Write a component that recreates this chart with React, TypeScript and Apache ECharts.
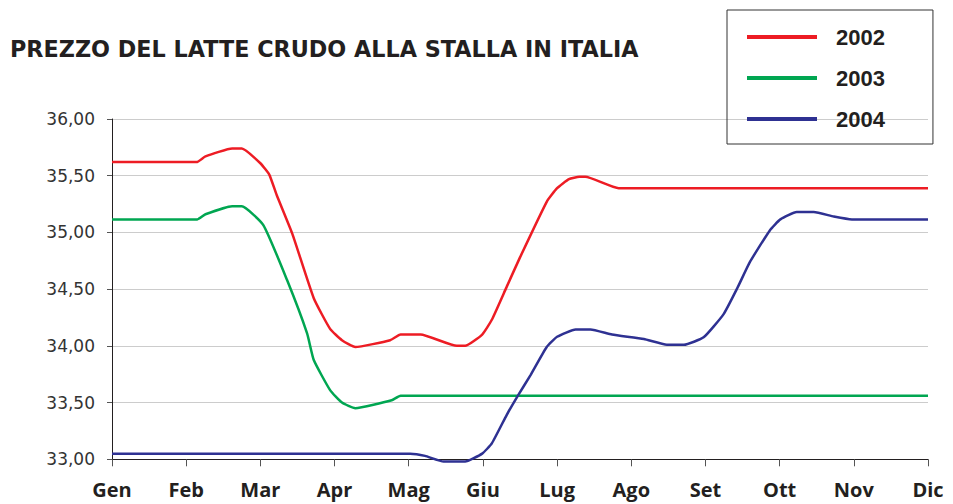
import React, { useEffect, useRef } from "react";
import * as echarts from "echarts";

const monthLabels = ["Gen", "Feb", "Mar", "Apr", "Mag", "Giu", "Lug", "Ago", "Set", "Ott", "Nov", "Dic"];
const seriesNames = ["2002", "2003", "2004"];
const seriesColors = ["#ED1C24", "#00A651", "#2E3192"];

// x in month units (0 = Gen, 11 = Dic)
const x2002 = [0, 1.14, 1.26, 1.62, 1.75, 2.0, 2.12, 2.22, 2.43, 2.72, 2.94, 3.1, 3.28, 3.75, 3.89, 4.16, 4.65, 4.76, 4.99, 5.12, 5.32, 5.5, 5.86, 6.0, 6.16, 6.3, 6.38, 6.83, 11];
const y2002 = [35.62, 35.62, 35.67, 35.74, 35.74, 35.61, 35.51, 35.33, 34.99, 34.42, 34.15, 34.05, 33.99, 34.05, 34.1, 34.1, 34.0, 34.0, 34.1, 34.23, 34.52, 34.78, 35.27, 35.39, 35.47, 35.49, 35.49, 35.39, 35.39];

const x2003 = [0, 1.15, 1.26, 1.62, 1.75, 2.04, 2.36, 2.63, 2.72, 2.94, 3.1, 3.28, 3.77, 3.89, 11];
const y2003 = [35.115, 35.115, 35.16, 35.23, 35.23, 35.065, 34.58, 34.11, 33.875, 33.61, 33.5, 33.45, 33.52, 33.56, 33.56];

const x2004 = [0, 4.02, 4.22, 4.47, 4.76, 4.99, 5.12, 5.32, 5.48, 5.64, 5.86, 6.0, 6.25, 6.45, 6.74, 7.17, 7.48, 7.71, 7.975, 8.245, 8.43, 8.6, 8.87, 9.01, 9.23, 9.46, 9.73, 9.975, 11];
const y2004 = [33.05, 33.05, 33.03, 32.98, 32.98, 33.05, 33.14, 33.39, 33.57, 33.74, 33.99, 34.08, 34.145, 34.145, 34.1, 34.06, 34.01, 34.01, 34.075, 34.28, 34.51, 34.74, 35.02, 35.115, 35.18, 35.18, 35.14, 35.115, 35.115];

const yMin = 33;
const yMax = 36;
const yStep = 0.5;

const seriesX = [x2002, x2003, x2004];
const seriesY = [y2002, y2003, y2004];

export default function App() {
  const ref = useRef<HTMLDivElement>(null);
  useEffect(() => {
    if (!ref.current) return;
    const chart = echarts.init(ref.current, null, { renderer: "svg" });
    chart.setOption({
      animation: false,
      backgroundColor: "#ffffff",
      title: {
        text: "PREZZO DEL LATTE CRUDO ALLA STALLA IN ITALIA",
        left: 10,
        top: 38,
        padding: 0,
        textStyle: { fontFamily: "DejaVu Sans", fontWeight: "bold", fontSize: 22.3, color: "#231f20" },
      },
      legend: {
        data: seriesNames,
        orient: "vertical",
        left: 727,
        top: 10,
        padding: [16, 48, 14, 20],
        itemGap: 19,
        itemWidth: 70,
        itemHeight: 4,
        icon: "rect",
        borderColor: "#333333",
        borderWidth: 1,
        selectedMode: false,
        textStyle: {
          fontFamily: "Liberation Sans",
          fontWeight: "bold",
          fontSize: 22,
          lineHeight: 22,
          color: "#231f20",
          padding: [0, 0, 0, 14],
        },
      },
      grid: { left: 112, right: 25, top: 119, height: 340.3, containLabel: false },
      xAxis: {
        type: "value",
        min: 0,
        max: 11,
        interval: 1,
        axisLine: { show: true, lineStyle: { color: "#231f20", width: 1 } },
        axisTick: { show: true, length: 7, lineStyle: { color: "#555555" } },
        splitLine: { show: false },
        axisLabel: {
          margin: 20,
          fontFamily: "Open Sans",
          fontWeight: "bold",
          fontSize: 20,
          color: "#231f20",
          formatter: (v: number) => monthLabels[Math.round(v)] ?? "",
        },
      },
      yAxis: {
        type: "value",
        min: yMin,
        max: yMax,
        interval: yStep,
        axisLine: { show: true, lineStyle: { color: "#231f20", width: 1 } },
        axisTick: { show: true, length: 5, lineStyle: { color: "#555555" } },
        splitLine: { show: true, lineStyle: { color: "#cccccc", width: 1 } },
        axisLabel: {
          margin: 17,
          fontFamily: "DejaVu Sans",
          fontSize: 17,
          color: "#333333",
          formatter: (v: number) => v.toFixed(2).replace(".", ","),
        },
      },
      series: seriesNames.map((name, i) => ({
        name,
        type: "line",
        data: seriesX[i].map((x, j) => [x, seriesY[i][j]]),
        showSymbol: false,
        symbol: "none",
        smooth: 0.15,
        clip: false,
        lineStyle: { color: seriesColors[i], width: 2.5 },
        itemStyle: { color: seriesColors[i] },
      })),
    });
    return () => chart.dispose();
  }, []);
  return <div ref={ref} style={{ position: "fixed", left: 0, top: 0, width: 953, height: 504 }} />;
}
